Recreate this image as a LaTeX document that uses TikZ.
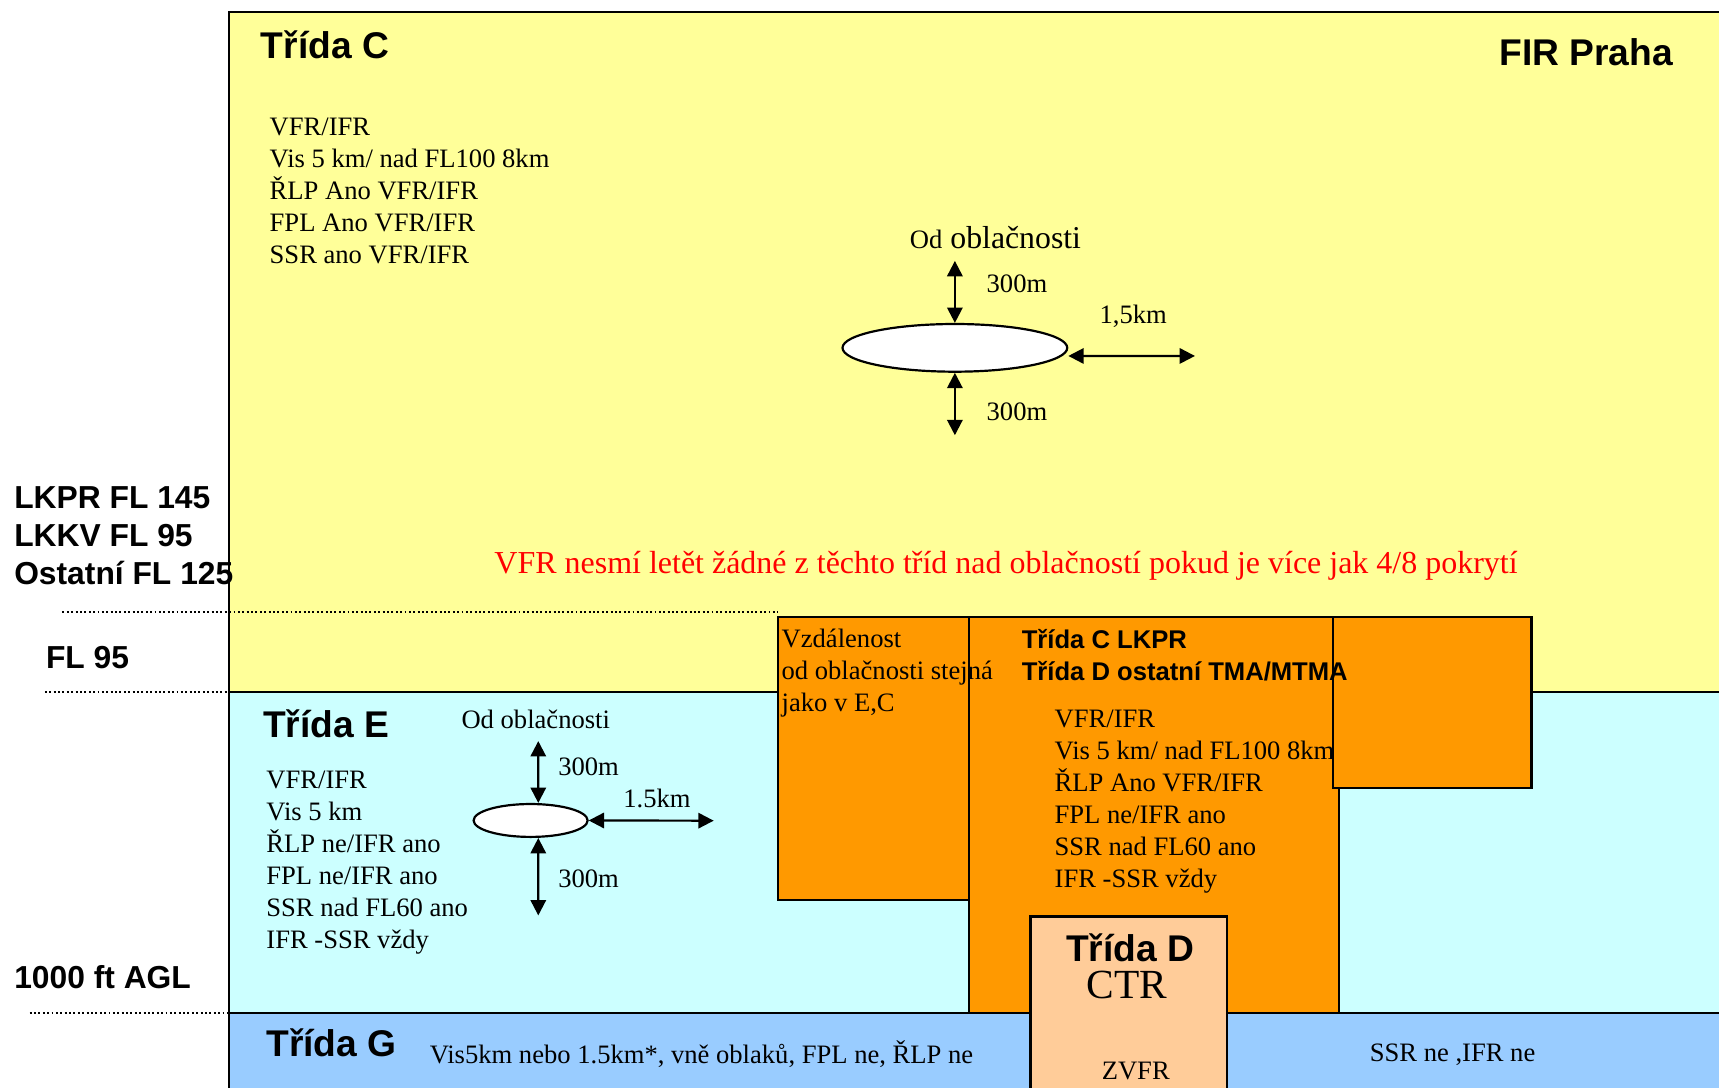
\documentclass[tikz,border=0pt]{standalone}
\usepackage{fontspec}
\setmainfont{Liberation Serif}
\setsansfont{Liberation Sans}
\usetikzlibrary{arrows.meta,shapes.geometric,positioning}
\definecolor{zoneC}{HTML}{FFFF99}
\definecolor{zoneE}{HTML}{CCFFFF}
\definecolor{zoneG}{HTML}{99CCFF}
\definecolor{tma}{HTML}{FF9900}
\definecolor{ctr}{HTML}{FFCC99}

\begin{document}
\begin{tikzpicture}[
  x=0.2mm, y=-0.2mm,
  every node/.style={inner sep=0pt, outer sep=0pt},
  border/.style={draw=black, line width=0.4mm},
  level/.style={line width=0.45mm, dash pattern=on 0.35mm off 0.45mm},
  head/.style={font=\sffamily\bfseries\fontsize{19.3}{23}\selectfont, anchor=base west},
  alt/.style={font=\sffamily\bfseries\fontsize{16.5}{19.8}\selectfont, anchor=base west},
  txt/.style={font=\fontsize{13.8}{16.6}\selectfont, align=left, anchor=north west},
  val/.style={font=\fontsize{13.8}{16.6}\selectfont, anchor=base west},
  cloud/.style={ellipse, draw, line width=0.4mm, fill=white, outer sep=0.2mm},
  dist/.style={{Triangle[length=2.8mm,width=2.8mm]}-{Triangle[length=2.8mm,width=2.8mm]}, line width=0.4mm},
]
\useasboundingbox (0,0) rectangle (1568,992);
\clip (0,0) rectangle (1568,992);

% airspace classes
\draw[border, fill=zoneC] (209,11) rectangle (1600,631);
\draw[border, fill=zoneE] (209,631) rectangle (1600,924);
\draw[border, fill=zoneG] (209,924) rectangle (1600,1010);

\draw[level] (57,558) -- (710,558);
\draw[level] (41,631) -- (209,631);
\draw[level] (27,924) -- (209,924);

% TMA / CTR
\draw[border, fill=tma] (710,563) rectangle (884,821);
\draw[border, fill=tma] (884,563) rectangle (1221,924);
\draw[border, fill=tma] (1216,563) rectangle (1397,719);
\draw[border, fill=ctr] (940,836) rectangle (1119,1010);

\node[head] (tridaC) at (238,53) {Třída C};
\node[head, anchor=base east] (fir) at (1526,60) {FIR Praha};
\node[txt] (infoC) at (246,107.5)
  {VFR/IFR\\Vis 5 km/ nad FL100 8km\\ŘLP Ano VFR/IFR\\FPL Ano VFR/IFR\\SSR ano VFR/IFR};

\node[cloud, minimum width=41mm, minimum height=8.7mm] (cloudC) at (871,317.3) {};
\coordinate (upC) at (871,238);
\coordinate (downC) at (871,397);
\coordinate (sideC) at (1090,324.7);
\draw[dist] (cloudC.north) -- (upC);
\draw[dist] (cloudC.south) -- (downC);
\draw[dist] ([yshift=-1.48mm]cloudC.east) -- (sideC);
\node[val, font=\fontsize{16.5}{19}\selectfont] (odC) at (830,226.5)
  {{\fontsize{13.8}{16}\selectfont Od} oblačnosti};
\node[val] (upCval) at (900,267) {300m};
\node[val] (downCval) at (900,384) {300m};
\node[val] (sideCval) at (1003,295.5) {1,5km};

\node[val, font=\fontsize{16.6}{19}\selectfont, text=red] (warn) at (451,523)
  {VFR nesmí letět žádné z těchto tříd nad oblačností pokud je více jak 4/8 pokrytí};

\node[alt, align=left, anchor=north west] (limits) at (13,443.5)
  {LKPR FL 145\\LKKV FL 95\\Ostatní FL 125};
\node[alt] (fl95) at (42,609.6) {FL 95};
\node[alt] (agl) at (13,901.5) {1000 ft AGL};

\node[head] (tridaE) at (240,672.5) {Třída E};
\node[val] (odE) at (421,664.4) {Od oblačnosti};
\node[txt] (infoE) at (243,703.5)
  {VFR/IFR\\Vis 5 km\\ŘLP ne/IFR ano\\FPL ne/IFR ano\\SSR nad FL60 ano\\IFR -SSR vždy};
\node[cloud, minimum width=20.8mm, minimum height=6mm] (cloudE) at (484,748.4) {};
\coordinate (upE) at (491,676);
\coordinate (downE) at (491,835);
\coordinate (sideE) at (651,748.6);
\draw[dist] ([xshift=1.4mm]cloudE.north) -- (upE);
\draw[dist] ([xshift=1.4mm]cloudE.south) -- (downE);
\draw[dist] (cloudE.east) -- (sideE);
\node[val] (upEval) at (509.3,707.5) {300m};
\node[val] (downEval) at (509.3,809.7) {300m};
\node[val] (sideEval) at (568.6,736.7) {1.5km};

\node[txt] (noteA) at (713,574.2) {Vzdálenost\\od oblačnosti stejná\\jako v E,C};
\node[txt, font=\sffamily\bfseries\fontsize{13.3}{16.7}\selectfont] (tridaCD) at (932,573.7)
  {Třída C LKPR\\Třída D ostatní TMA/MTMA};
\node[txt] (infoD) at (962,647.5)
  {VFR/IFR\\Vis 5 km/ nad FL100 8km\\ŘLP Ano VFR/IFR\\FPL ne/IFR ano\\SSR nad FL60 ano\\IFR -SSR vždy};

\node[head, anchor=base] (tridaD) at (1031,877) {Třída D};
\node[val, anchor=base, font=\fontsize{21.5}{25}\selectfont] (ctrname) at (1028,911) {CTR};
\node[val, anchor=base] (zvfr) at (1036,984.5) {ZVFR};

\node[head] (tridaG) at (243,964) {Třída G};
\node[val] (infoG) at (392,970) {Vis5km nebo 1.5km*, vně oblaků, FPL ne, ŘLP ne};
\node[val, anchor=base] (infoG2) at (1325,968.4) {SSR ne ,IFR ne};
\end{tikzpicture}
\end{document}
